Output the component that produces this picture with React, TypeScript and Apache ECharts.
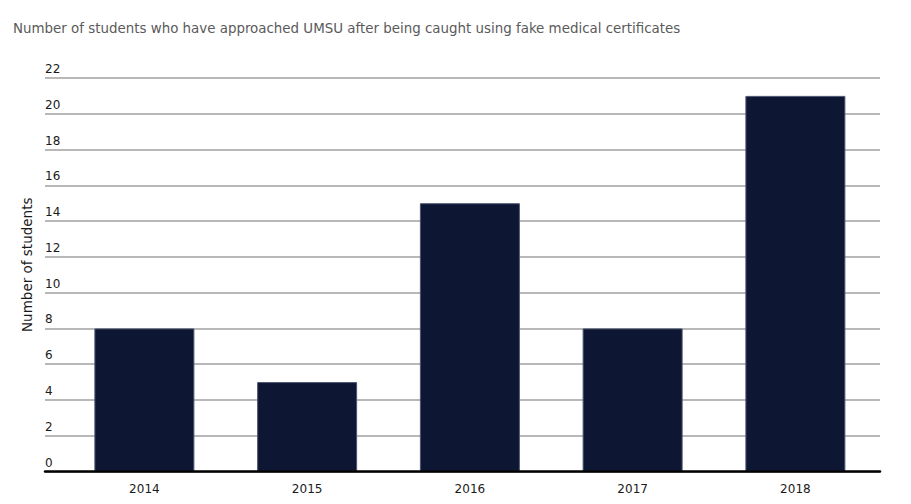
import React, { useEffect, useRef } from "react";
import * as echarts from "echarts";

const TITLE = "Number of students who have approached UMSU after being caught using fake medical certificates";
const Y_NAME = "Number of students";
const years = ["2014", "2015", "2016", "2017", "2018"];
const students = [8, 5, 15, 8, 21];
const Y_MIN = 0;
const Y_MAX = 22;
const Y_STEP = 2;

export default function App() {
  const ref = useRef<HTMLDivElement>(null);
  useEffect(() => {
    if (!ref.current) return;
    const chart = echarts.init(ref.current, null, { renderer: "svg" });
    const labelFont = "'DejaVu Sans', Verdana, sans-serif";
    chart.setOption({
      animation: false,
      backgroundColor: "#ffffff",
      title: {
        text: TITLE,
        left: 5,
        top: 12,
        padding: 0,
        textStyle: {
          fontFamily: "'DejaVu Sans Condensed', 'Liberation Sans', sans-serif",
          fontSize: 14.9,
          fontWeight: "normal",
          color: "#5a5a5a",
        },
      },
      grid: [
        { left: 37, right: 23, top: 70, bottom: 24.5, containLabel: false },
        { left: 55, width: 813.75, top: 70, bottom: 24.5, containLabel: false },
      ],
      xAxis: [
        {
          gridIndex: 0,
          type: "value",
          min: 0,
          max: 1,
          z: 5,
          axisLine: { show: true, lineStyle: { color: "#000", width: 2.5 } },
          axisTick: { show: false },
          axisLabel: { show: false },
          splitLine: { show: false },
        },
        {
          gridIndex: 1,
          type: "category",
          data: years,
          axisLine: { show: false },
          axisTick: { show: false },
          axisLabel: {
            fontFamily: labelFont,
            fontSize: 12,
            color: "#1a1a1a",
            margin: 11,
          },
        },
      ],
      yAxis: [
        {
          gridIndex: 0,
          type: "value",
          min: Y_MIN,
          max: Y_MAX,
          interval: Y_STEP,
          name: Y_NAME,
          nameLocation: "middle",
          nameGap: 8,
          nameTextStyle: {
            fontFamily: labelFont,
            fontSize: 13.5,
            color: "#1a1a1a",
            padding: [0, 0, 0, 20],
          },
          axisLine: { show: false },
          axisTick: { show: false },
          axisLabel: {
            inside: true,
            margin: 0,
            align: "left",
            verticalAlign: "bottom",
            padding: [0, 0, 3, 0],
            fontFamily: labelFont,
            fontSize: 12,
            color: "#1a1a1a",
          },
          splitLine: { show: true, lineStyle: { color: "#a0a0a0", width: 1.5 } },
        },
        {
          gridIndex: 1,
          type: "value",
          min: Y_MIN,
          max: Y_MAX,
          interval: Y_STEP,
          show: false,
          splitLine: { show: false },
        },
      ],
      series: [
        {
          type: "bar",
          xAxisIndex: 1,
          yAxisIndex: 1,
          data: students,
          barWidth: 100,
          itemStyle: { color: "#0d1734", borderColor: "#4d5670", borderWidth: 1 },
        },
      ],
    });
    return () => chart.dispose();
  }, []);
  return <div ref={ref} style={{ width: 895, height: 488 }} />;
}
